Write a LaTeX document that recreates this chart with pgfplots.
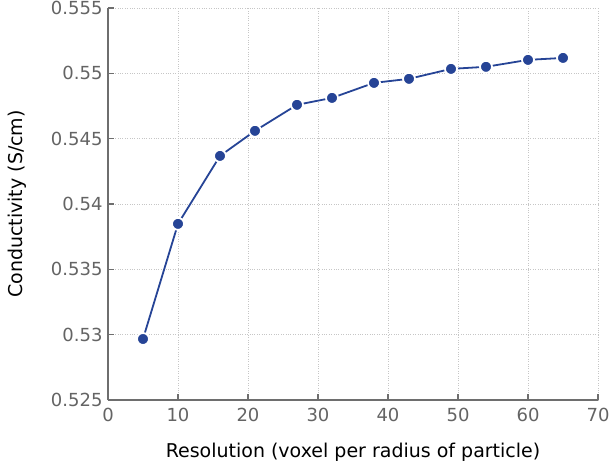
\documentclass[border=0pt]{standalone}
\usepackage{pgfplots}
\pgfplotsset{compat=1.18}
\usepackage{fontspec}
\setmainfont{DejaVu Sans}
\definecolor{dblue}{RGB}{38,68,150}
\definecolor{axgray}{RGB}{110,110,110}
\definecolor{tickgray}{RGB}{100,100,100}
\begin{document}
\begin{tikzpicture}
\useasboundingbox (-108pt,-71pt) rectangle (504pt,400pt);
\begin{axis}[
  scale only axis,
  width=490pt, height=392pt,
  xmin=0, xmax=70, ymin=0.525, ymax=0.555,
  xtick={0,10,...,70},
  ytick={0.525,0.53,0.535,0.54,0.545,0.55,0.555},
  scaled y ticks=false,
  yticklabel style={xshift=-2pt, /pgf/number format/.cd, fixed, precision=3},
  xticklabel style={yshift=-5pt},
  /pgf/number format/assume math mode=true,
  axis x line*=bottom, axis y line*=left,
  axis line style={axgray, line width=1.2pt},
  tick align=inside,
  major tick length=6pt,
  tick style={axgray, line width=1.2pt},
  grid=major,
  major grid style={dotted, gray!45, line width=0.8pt},
  ticklabel style={font=\fontsize{18}{21}\selectfont, text=tickgray},
  label style={font=\fontsize{19}{22}\selectfont},
  xlabel={Resolution (voxel per radius of particle)},
  ylabel={Conductivity (S/cm)},
  xlabel style={at={(axis description cs:0.5,-0.133)}, anchor=center},
  ylabel style={at={(axis description cs:-0.186,0.5)}, anchor=center},
]
\addplot[color=dblue, line width=1.8pt, mark=*, mark size=6pt,
  mark options={fill=dblue, draw=white, line width=1.8pt}]
  coordinates {
  (5,0.52967) (10,0.53848) (16,0.54368) (21,0.54560) (27,0.54759)
  (32,0.54812) (38,0.54927) (43,0.54958) (49,0.55034) (54,0.55050)
  (60,0.55103) (65,0.55118)
  };
\end{axis}
\end{tikzpicture}
\end{document}
